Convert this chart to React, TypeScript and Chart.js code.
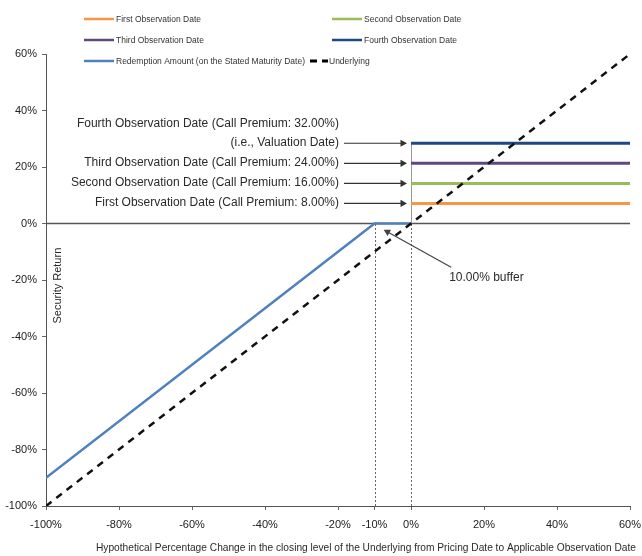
import React, { useEffect, useRef } from "react";
import { Chart, registerables } from "chart.js";

Chart.register(...registerables);

// ---------- data ----------
const xTickValues = [-100, -80, -60, -40, -20, -10, 0, 20, 40, 60];
const yMin = -100;
const yMax = 60;
const yStep = 20;

const observationNames = [
  "First Observation Date",
  "Second Observation Date",
  "Third Observation Date",
  "Fourth Observation Date",
];
const observationReturns = [7.1, 14.2, 21.3, 28.4];
const observationStartX = 0;
const observationEndX = 60;
const observationColors = ["#F79646", "#9BBB59", "#5F497A", "#1F497D"];
const callPremiumLabels = [
  "First Observation Date (Call Premium: 8.00%)",
  "Second Observation Date (Call Premium: 16.00%)",
  "Third Observation Date (Call Premium: 24.00%)",
  "Fourth Observation Date (Call Premium: 32.00%)",
];
const valuationNote = "(i.e., Valuation Date)";

const redemptionName = "Redemption Amount (on the Stated Maturity Date)";
const redemptionX = [-100, -10, 0];
const redemptionY = [-90, 0, 0];

const underlyingName = "Underlying";
const underlyingX = [-100, 60];
const underlyingY = [-100, 60];

const bufferLevel = -10;
const bufferLabel = "10.00% buffer";
const bufferArrowHead = { x: -7.5, y: -2.2 };
const bufferArrowTail = { x: 11, y: -15.5 };

const xTitle =
  "Hypothetical Percentage Change in the closing level of the Underlying from Pricing Date to Applicable Observation Date";
const yTitle = "Security Return";

const FONT = "'Liberation Sans', Arial, sans-serif";

function arrow(ctx: CanvasRenderingContext2D, x1: number, y1: number, x2: number, y2: number, color: string) {
  ctx.save();
  ctx.strokeStyle = color;
  ctx.fillStyle = color;
  ctx.lineWidth = 1.2;
  const ang = Math.atan2(y2 - y1, x2 - x1);
  const hl = 6.5;
  const hw = 3.6;
  ctx.beginPath();
  ctx.moveTo(x1, y1);
  ctx.lineTo(x2 - Math.cos(ang) * hl * 0.8, y2 - Math.sin(ang) * hl * 0.8);
  ctx.stroke();
  ctx.beginPath();
  ctx.moveTo(x2, y2);
  ctx.lineTo(x2 - Math.cos(ang) * hl - Math.sin(ang) * hw, y2 - Math.sin(ang) * hl + Math.cos(ang) * hw);
  ctx.lineTo(x2 - Math.cos(ang) * hl + Math.sin(ang) * hw, y2 - Math.sin(ang) * hl - Math.cos(ang) * hw);
  ctx.closePath();
  ctx.fill();
  ctx.restore();
}

const annotationPlugin = {
  id: "annotations",
  beforeDatasetsDraw(chart: any) {
    const ctx: CanvasRenderingContext2D = chart.ctx;
    const xs = chart.scales.x;
    const ys = chart.scales.y;
    const area = chart.chartArea;
    ctx.save();
    // zero line
    ctx.strokeStyle = "#555";
    ctx.lineWidth = 1.5;
    ctx.beginPath();
    ctx.moveTo(area.left, ys.getPixelForValue(0));
    ctx.lineTo(area.right, ys.getPixelForValue(0));
    ctx.stroke();
    // dotted verticals
    ctx.strokeStyle = "#666";
    ctx.lineWidth = 1;
    ctx.setLineDash([2, 2]);
    [bufferLevel, 0].forEach((v) => {
      const px = Math.round(xs.getPixelForValue(v)) + 0.5;
      ctx.beginPath();
      ctx.moveTo(px, area.bottom);
      ctx.lineTo(px, ys.getPixelForValue(0));
      ctx.stroke();
    });
    ctx.setLineDash([]);
    ctx.strokeStyle = "#999";
    const px0 = Math.round(xs.getPixelForValue(0)) + 0.5;
    ctx.beginPath();
    ctx.moveTo(px0, ys.getPixelForValue(0));
    ctx.lineTo(px0, ys.getPixelForValue(observationReturns[3]));
    ctx.stroke();
    ctx.restore();
  },
  afterDatasetsDraw(chart: any) {
    const ctx: CanvasRenderingContext2D = chart.ctx;
    const xs = chart.scales.x;
    const ys = chart.scales.y;
    const area = chart.chartArea;
    ctx.save();
    const x0 = xs.getPixelForValue(0);
    ctx.font = `12px ${FONT}`;
    ctx.fillStyle = "#2a2a2a";
    ctx.textAlign = "right";
    ctx.textBaseline = "middle";
    observationReturns.forEach((v, i) => {
      const py = ys.getPixelForValue(v);
      if (i === 3) {
        ctx.fillText(callPremiumLabels[i], x0 - 72, py - 20);
        ctx.fillText(valuationNote, x0 - 72, py - 1);
      } else {
        ctx.fillText(callPremiumLabels[i], x0 - 72, py - 1);
      }
      arrow(ctx, x0 - 67, py, x0 - 4, py, "#333");
    });
    // buffer annotation
    const hx = xs.getPixelForValue(bufferArrowHead.x);
    const hy = ys.getPixelForValue(bufferArrowHead.y);
    const tx = xs.getPixelForValue(bufferArrowTail.x);
    const ty = ys.getPixelForValue(bufferArrowTail.y);
    arrow(ctx, tx, ty, hx, hy, "#444");
    ctx.textAlign = "left";
    ctx.fillText(bufferLabel, tx - 2, ty + 10);

    // y title inside plot
    ctx.save();
    ctx.translate(area.left + 12, ys.getPixelForValue(-22));
    ctx.rotate(-Math.PI / 2);
    ctx.textAlign = "center";
    ctx.font = `11px ${FONT}`;
    ctx.fillText(yTitle, 0, 0);
    ctx.restore();

    // x title
    ctx.textAlign = "center";
    ctx.font = `10.5px ${FONT}`;
    ctx.fillText(xTitle, 366, area.bottom + 42, 540);

    // legend
    ctx.font = `8.5px ${FONT}`;
    ctx.textAlign = "left";
    const items = [
      { label: observationNames[0], color: observationColors[0], x: 84, y: 19, dash: false },
      { label: observationNames[1], color: observationColors[1], x: 332, y: 19, dash: false },
      { label: observationNames[2], color: observationColors[2], x: 84, y: 40, dash: false },
      { label: observationNames[3], color: observationColors[3], x: 332, y: 40, dash: false },
      { label: redemptionName, color: "#4F81BD", x: 84, y: 61, dash: false },
      { label: underlyingName, color: "#000", x: 310, y: 61, dash: true },
    ];
    items.forEach((it) => {
      ctx.strokeStyle = it.color;
      ctx.lineWidth = it.dash ? 3 : 2.5;
      ctx.setLineDash(it.dash ? [7, 5] : []);
      ctx.beginPath();
      ctx.moveTo(it.x, it.y);
      ctx.lineTo(it.x + (it.dash ? 18 : 30), it.y);
      ctx.stroke();
      ctx.setLineDash([]);
      ctx.fillStyle = "#333";
      ctx.fillText(it.label, it.x + (it.dash ? 19 : 32), it.y + 0.5);
    });
    ctx.restore();
  },
};

function pts(xs: number[], ys: number[]) {
  return xs.map((x, i) => ({ x, y: ys[i] }));
}

export default function App() {
  const ref = useRef<HTMLCanvasElement | null>(null);
  useEffect(() => {
    document.body.style.margin = "0";
    if (!ref.current) return;
    const datasets: any[] = observationNames.map((name, i) => ({
      label: name,
      data: pts([observationStartX, observationEndX], [observationReturns[i], observationReturns[i]]),
      borderColor: observationColors[i],
      borderWidth: 3,
      pointRadius: 0,
      order: 2,
    }));
    datasets.push({
      label: redemptionName,
      data: pts(redemptionX, redemptionY),
      borderColor: "#4F81BD",
      borderWidth: 2.5,
      pointRadius: 0,
      order: 1,
    });
    datasets.push({
      label: underlyingName,
      data: pts(underlyingX, underlyingY),
      borderColor: "#111",
      borderWidth: 2.5,
      borderDash: [7, 6],
      pointRadius: 0,
      order: 0,
    });
    const chart = new Chart(ref.current, {
      type: "line",
      data: { datasets },
      plugins: [annotationPlugin],
      options: {
        animation: false,
        responsive: true,
        maintainAspectRatio: false,
        layout: { padding: { top: 54, right: 12, left: 0, bottom: 0 } },
        plugins: { legend: { display: false }, tooltip: { enabled: false } },
        scales: {
          x: {
            type: "linear",
            min: -100,
            max: 60,
            afterBuildTicks: (s: any) => {
              s.ticks = xTickValues.map((v) => ({ value: v }));
            },
            afterFit: (s: any) => {
              s.height = 50;
              s.paddingLeft = 0;
              s.paddingRight = 0;
            },
            ticks: {
              autoSkip: false,
              maxRotation: 0,
              padding: 8,
              color: "#222",
              font: { family: FONT, size: 11 },
              callback: (v: any) => `${v}%`,
            },
            grid: { drawOnChartArea: false, tickLength: 4, color: "#666" },
            border: { color: "#555" },
          },
          y: {
            min: yMin,
            max: yMax,
            afterFit: (s: any) => {
              s.width = 46;
              s.paddingTop = 0;
              s.paddingBottom = 0;
            },
            ticks: {
              stepSize: yStep,
              padding: 5,
              color: "#222",
              font: { family: FONT, size: 11 },
              callback: (v: any) => `${v}%`,
            },
            grid: { drawOnChartArea: false, tickLength: 4, color: "#666" },
            border: { color: "#555" },
          },
        },
      },
    });
    return () => chart.destroy();
  }, []);
  return (
    <div style={{ width: 642, height: 556, position: "relative", background: "#fff" }}>
      <canvas ref={ref} />
    </div>
  );
}
